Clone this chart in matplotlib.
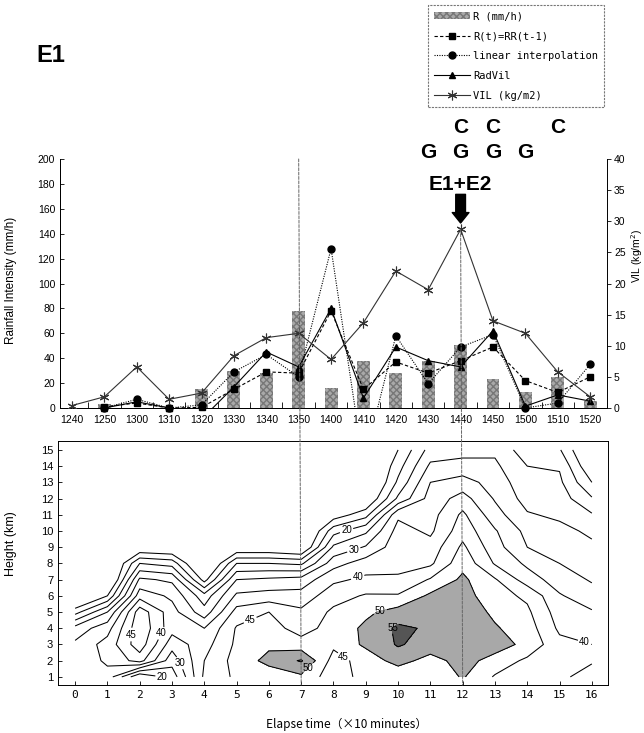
import numpy as np
import matplotlib.pyplot as plt
from matplotlib.patches import ConnectionPatch
from matplotlib.lines import Line2D
from matplotlib.transforms import blended_transform_factory
from matplotlib.font_manager import FontProperties

plt.rcParams['font.family'] = ['Liberation Sans', 'DejaVu Sans']

# ---- top panel data (10-min steps) ----
times = ['1240', '1250', '1300', '1310', '1320', '1330', '1340', '1350', '1400',
         '1410', '1420', '1430', '1440', '1450', '1500', '1510', '1520']
rain = [0, 3, 0, 0, 15, 30, 28, 78, 16, 38, 28, 38, 51, 23, 13, 25, 6]            # R (mm/h)
rr_prev = [np.nan, 1, 4, 0, 0.5, 15, 29, 28, 78, 15, 37, 28, 38, 49, 22, 12.5, 25]  # R(t)=RR(t-1)
lin_interp = [np.nan, 0, 7, 0, 2.5, 29, 43, 25, 128, -45, 58, 19.5, 49, 59, 0, 4, 35]
radvil = [np.nan, 0, 5, 0, -9, 17, 45, 33, 80, 8, 49, 38, 33, 62, 1.5, 10.5, 5.5]
vil = [0.4, 1.8, 6.6, 1.4, 2.4, 8.4, 11.3, 12, 7.8, 13.7, 22, 19, 28.7, 14, 12, 5.8, 1.8]  # kg/m2

g_marks = ['1430', '1440', '1450', '1500']
c_marks = ['1440', '1450', '1510']

# ---- bottom panel data: reflectivity (dBZ), one list per elapsed step, heights 1..15 km ----
elapsed = list(range(17))
heights = list(range(1, 16))
refl_cols = [
    [30, 31, 31, 27, 13, 0, 0, 0, 0, 0, 0, 0, 0, 0, 0],
    [33, 36, 37, 33, 25, 10, 0, 0, 0, 0, 0, 0, 0, 0, 0],
    [15, 42, 48, 49, 48, 38, 31, 20, 5, 0, 0, 0, 0, 0, 0],
    [22, 27, 32, 37, 37, 34, 29, 18, 4, 0, 0, 0, 0, 0, 0],
    [41, 40, 38, 35, 27, 22, 8, 0, 0, 0, 0, 0, 0, 0, 0],
    [46, 47, 46, 45.5, 42, 36, 30, 20, 5, 0, 0, 0, 0, 0, 0],
    [47, 51.5, 49, 47, 45, 37, 31, 20, 5, 0, 0, 0, 0, 0, 0],
    [49, 55.5, 47, 43, 41, 37, 32, 19, 3, 0, 0, 0, 0, 0, 0],
    [42, 43, 46, 47, 46, 43, 39, 33, 26, 18, 7, 0, 0, 0, 0],
    [47, 47, 51, 51, 49, 45.5, 41, 37.5, 30.5, 24, 13, 4, 0, 0, 0],
    [46, 52, 55.5, 56, 52, 45.5, 40.5, 39, 38, 37, 34, 21, 16, 13, 10],
    [46, 48, 53, 54.3, 53, 51, 45.5, 39, 37, 34, 33, 32, 30, 26, 22],
    [50.5, 52, 53, 53, 53, 52, 51, 48.5, 46, 43, 41, 37, 32, 27, 23],
    [44.5, 48, 52.5, 50.5, 49, 47, 45.5, 39.5, 37, 35.5, 32, 29.5, 28, 26, 24],
    [42, 44, 48.5, 47.5, 46, 44, 37.5, 34, 30, 28.5, 25.5, 23, 21.5, 20, 17],
    [41, 42, 41.5, 39, 37.5, 35.5, 32.5, 30, 28.5, 26.5, 24, 22.5, 21, 19.5, 15.5],
    [38, 40.5, 40, 38, 35.5, 32, 29.5, 27.5, 26, 24, 20.5, 15.5, 10, 5, 2],
]
plain_levels = [10, 15, 25, 35]
label_levels = [20, 30, 40, 45, 50, 55]
label_spots = [(2.7, 1.05), (3.3, 1.9), (1.9, 3.6), (2.55, 3.8), (5.4, 4.6), (7.35, 1.3),
               (8.3, 2.2), (8.45, 9.7), (8.7, 8.4), (8.8, 6.8), (9.45, 5.0), (9.85, 4.0),
               (15.8, 3.3)]
event_times = ['1350', '1440']

x = np.arange(len(times))
fig = plt.figure(figsize=(6.44, 7.33), dpi=100)
W, H = 644, 733

# ---------------- top panel ----------------
ax1 = fig.add_axes([60 / W, 1 - 408 / H, 547 / W, 249 / H])
ax1b = ax1.twinx()

bars = ax1.bar(x, rain, width=0.4, color='#a9a9a9', hatch='xxxxx', edgecolor='#777777',
               linewidth=0, label='R (mm/h)', zorder=2)


def est_line(ax, vals, ls, mk, ms, label):
    vals = np.array(vals, dtype=float)
    ax.plot(x, vals, ls=ls, color='k', lw=0.8, zorder=3)
    shown = np.where(vals >= 0, vals, np.nan)
    ax.plot(x, shown, ls='none', marker=mk, ms=ms, color='k', clip_on=False, zorder=4)
    return Line2D([], [], ls=ls, color='k', lw=0.8, marker=mk, ms=ms, label=label)


h_rr = est_line(ax1, rr_prev, (0, (3, 2)), 's', 4.5, 'R(t)=RR(t-1)')
h_li = est_line(ax1, lin_interp, (0, (1, 1.2)), 'o', 5, 'linear interpolation')
h_rv = est_line(ax1, radvil, '-', '^', 5, 'RadVil')
ax1b.plot(x, vil, color='#333333', lw=0.8, marker=(6, 2, 0), ms=7, mew=0.8, zorder=3)
h_vil = Line2D([], [], color='#333333', lw=0.8, marker=(6, 2, 0), ms=7, mew=0.8,
               label='VIL (kg/m2)')

ax1.set_xlim(-0.37, 16.52)
ax1.set_ylim(0, 200)
ax1b.set_ylim(0, 40)
ax1.set_yticks(range(0, 201, 20))
ax1b.set_yticks(range(0, 41, 5))
ax1.set_xticks(x)
ax1.set_xticklabels(times)
ax1.set_xticks(x[:-1] + 0.5, minor=True)
ax1.tick_params(axis='x', which='major', length=0, pad=5, labelsize=7.5)
ax1.tick_params(axis='x', which='minor', direction='in', length=4, width=0.6)
ax1.tick_params(axis='y', direction='in', length=3, width=0.6, labelsize=7.5)
ax1b.tick_params(axis='y', direction='out', length=3, width=0.6, labelsize=7.5, pad=2)
for ax in (ax1, ax1b):
    ax.spines['top'].set_visible(False)
    for s in ax.spines.values():
        s.set_linewidth(0.7)
ax1.spines['right'].set_visible(False)
ax1.set_ylabel('Rainfall Intensity (mm/h)', fontsize=8.5)
ax1.yaxis.set_label_coords(-0.079, 0.514)
ax1b.set_ylabel('VIL (kg/m$^2$)', fontsize=7.5)
ax1b.yaxis.set_label_coords(1.041, 0.61)

# hail (G) / convective (C) markers and the E1+E2 arrow
tr = blended_transform_factory(ax1.transData, ax1.transAxes)
for t in g_marks:
    ax1.text(times.index(t), 1.028, 'G', transform=tr, ha='center', va='center',
             fontsize=15, fontweight='bold')
for t in c_marks:
    ax1.text(times.index(t), 1.128, 'C', transform=tr, ha='center', va='center',
             fontsize=15, fontweight='bold')
peak = times.index('1440')
ax1.text(peak, 0.896, 'E1+E2', transform=tr, ha='center', va='center', fontsize=15,
         fontweight='bold')
ax1.annotate('', xy=(peak, 0.743), xycoords=tr, xytext=(peak, 0.858), textcoords=tr,
             arrowprops=dict(width=7, headwidth=12, headlength=7.5, color='k', shrink=0))

fig.text(36 / W, 1 - 56 / H, 'E1', ha='left', va='center', fontsize=17, fontweight='bold')

leg = fig.legend([bars, h_rr, h_li, h_rv, h_vil],
                 ['R (mm/h)', 'R(t)=RR(t-1)', 'linear interpolation', 'RadVil', 'VIL (kg/m2)'],
                 loc='upper right', bbox_to_anchor=(604 / W, 1 - 5 / H), borderaxespad=0,
                 prop=FontProperties(family='DejaVu Sans Mono', size=7.5),
                 frameon=True, fancybox=False, handlelength=3.4, labelspacing=0.95,
                 borderpad=0.6, handletextpad=0.3, numpoints=1)
leg.get_frame().set_edgecolor('#555555')
leg.get_frame().set_linestyle((0, (2, 1)))
leg.get_frame().set_linewidth(0.8)

# ---------------- bottom panel ----------------
ax2 = fig.add_axes([58 / W, 1 - 685 / H, 550 / W, 244 / H])
T, Hh = np.meshgrid(elapsed, heights)
Z = np.array(refl_cols, dtype=float).T
ax2.contourf(T, Hh, Z, levels=[50, 55, 80], colors=['#a8a8a8', '#555555'])
ax2.contour(T, Hh, Z, levels=plain_levels, colors='k', linewidths=0.75)
cs = ax2.contour(T, Hh, Z, levels=label_levels, colors='k', linewidths=0.75)
labels = ax2.clabel(cs, manual=label_spots, inline=True, fmt='%d', fontsize=7,
                    inline_spacing=2)
for lab in labels:
    lab.set_rotation(0)
ax2.set_xlim(-0.53, 16.5)
ax2.set_ylim(0.5, 15.55)
ax2.set_xticks(elapsed)
ax2.set_xticklabels([str(e) for e in elapsed], fontfamily='DejaVu Sans Mono', fontsize=7)
ax2.set_yticks(heights)
ax2.tick_params(direction='in', length=3, width=0.6, labelsize=8)
for s in ax2.spines.values():
    s.set_linewidth(0.7)
ax2.set_ylabel('Height (km)', fontsize=9)
ax2.yaxis.set_label_coords(-0.075, 0.58)
ax2.set_xlabel('Elapse time（×10 minutes）', fontsize=8.5,
               fontfamily=['Noto Sans CJK JP', 'DejaVu Sans'])
ax2.xaxis.set_label_coords(0.525, -0.135)

# event lines through both panels
for t in event_times:
    i = times.index(t)
    if t == '1440':
        start, cax = (i, vil[i]), ax1b
    else:
        start, cax = (i, 200), ax1
    con = ConnectionPatch(xyA=start, coordsA=cax.transData, xyB=(i, 0.5),
                          coordsB=ax2.transData, color='#666666', lw=0.7,
                          ls=(0, (3, 1.5)), zorder=1)
    fig.add_artist(con)

fig.savefig('out.png', dpi=100)
